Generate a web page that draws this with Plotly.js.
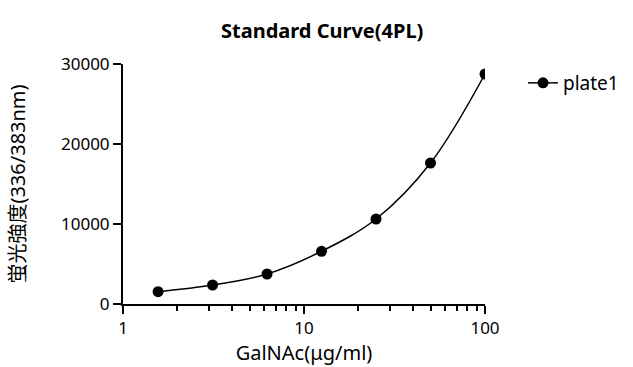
<!DOCTYPE html>
<html>
<head>
<meta charset="utf-8">
<script src="https://cdn.plot.ly/plotly-3.0.1.min.js"></script>
<style>html,body{margin:0;padding:0;background:#fff;}#chart{width:633px;height:367px;}</style>
</head>
<body>
<div id="chart"></div>
<script>
const concentrations = [1.5625, 3.125, 6.25, 12.5, 25, 50, 100];
const intensities = [1540, 2375, 3750, 6590, 10625, 17625, 28750];
const seriesName = 'plate1';
const xTickVals = [1, 10, 100];
const xTickText = ['1', '10', '100'];
const xMinorTickVals = [2, 3, 4, 5, 6, 7, 8, 9, 20, 30, 40, 50, 60, 70, 80, 90];
const yTickVals = [0, 10000, 20000, 30000];
const yTickText = ['0', '10000', '20000', '30000'];

const fontFamily = '"Noto Sans", "Noto Sans CJK JP", sans-serif';

const trace = {
  x: concentrations,
  y: intensities,
  name: seriesName,
  type: 'scatter',
  mode: 'lines+markers',
  line: {color: '#000', width: 1.5, shape: 'spline', smoothing: 1},
  marker: {color: '#000', size: 11},
  showlegend: true
};

const layout = {
  width: 633,
  height: 367,
  margin: {l: 123, r: 148, t: 64, b: 63, autoexpand: false},
  paper_bgcolor: '#fff',
  plot_bgcolor: '#fff',
  font: {family: fontFamily, color: '#000', size: 17},
  title: {
    text: '<b>Standard Curve(4PL)</b>',
    font: {family: fontFamily, size: 20, color: '#000'},
    x: 0.509, xref: 'container', xanchor: 'center',
    y: 0.915, yref: 'container', yanchor: 'middle'
  },
  xaxis: {
    type: 'log',
    range: [0, 2],
    tickvals: xTickVals,
    ticktext: xTickText,
    ticks: 'outside',
    ticklen: 8,
    tickwidth: 2,
    tickcolor: '#000',
    showline: true,
    linecolor: '#000',
    linewidth: 2,
    showgrid: false,
    zeroline: false,
    tickfont: {size: 17},
    minor: {tickvals: xMinorTickVals, ticks: 'outside', ticklen: 5, tickwidth: 2, tickcolor: '#000', showgrid: false},
    title: {text: 'GalNAc(μg/ml)', font: {size: 20}, standoff: 4}
  },
  yaxis: {
    range: [0, 30000],
    tickvals: yTickVals,
    ticktext: yTickText,
    ticks: 'outside',
    ticklen: 8,
    tickwidth: 2,
    tickcolor: '#000',
    showline: true,
    linecolor: '#000',
    linewidth: 2,
    showgrid: false,
    zeroline: false,
    tickfont: {size: 17},
    title: {text: '蛍光強度(336/383nm)', font: {size: 20, color: '#000'}, standoff: 30}
  },
  legend: {
    x: 1.105, xanchor: 'left',
    y: 1.0, yanchor: 'top',
    font: {size: 19},
    itemwidth: 30,
    bgcolor: 'rgba(0,0,0,0)'
  }
};

Plotly.newPlot('chart', [trace], layout, {displayModeBar: false, staticPlot: true});
</script>
</body>
</html>
